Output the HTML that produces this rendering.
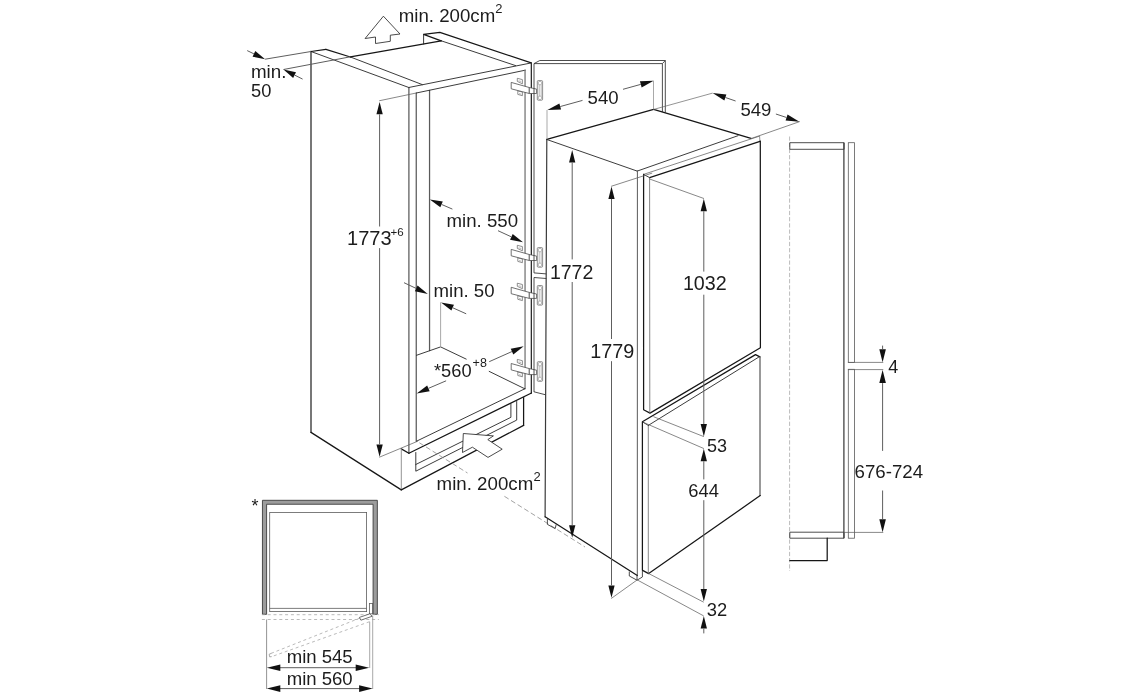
<!DOCTYPE html>
<html lang="en"><head><meta charset="utf-8"><title>Built-in fridge-freezer installation dimensions</title>
<style>
html,body{margin:0;padding:0;background:#fff;}
body{width:1129px;height:695px;overflow:hidden;}
svg{display:block;will-change:transform;}
svg text{font-family:"Liberation Sans",sans-serif;fill:#1c1c1c;}
.k{stroke:#161616;stroke-width:1.25;fill:none;stroke-linecap:round;stroke-linejoin:round;}
.n{stroke:#262626;stroke-width:.9;fill:none;stroke-linecap:round;stroke-linejoin:round;}
.c1{stroke:#2e2e2e;stroke-width:1.3;fill:none;stroke-linecap:round;}
.c2{stroke:#5a5a5a;stroke-width:1.25;fill:none;stroke-linecap:round;}
.c3{stroke:#777;stroke-width:1.3;fill:none;stroke-linecap:round;}
.n2{stroke:#5a5a5a;stroke-width:1;fill:none;stroke-linecap:round;}
.m{stroke:#555;stroke-width:1.2;fill:none;stroke-linecap:round;stroke-linejoin:round;}
.t{stroke:#606060;stroke-width:.75;fill:none;stroke-linecap:round;}
.d{stroke:#5e5e5e;stroke-width:1;fill:none;}
.g{stroke:#707070;stroke-width:.85;fill:none;stroke-linejoin:round;}
.l{stroke:#9a9a9a;stroke-width:.85;fill:none;}
.e{stroke:#666;stroke-width:.7;fill:none;}
.o{stroke:#3a3a3a;stroke-width:.9;fill:none;stroke-linejoin:round;}
.h{stroke:#606060;stroke-width:.7;fill:#fff;stroke-linejoin:round;}
.h2{stroke:#8a8a8a;stroke-width:.6;fill:none;}
.ha{stroke:#4c4c4c;stroke-width:.8;fill:#fff;stroke-linejoin:round;}
.ds{stroke:#8c8c8c;stroke-width:.8;fill:none;stroke-dasharray:5 2.8;}
.dv{stroke:#a8a8a8;stroke-width:.8;fill:none;stroke-dasharray:4.2 2;}
.sv{stroke:#3c3c3c;stroke-width:1.25;fill:none;}
.ae{stroke:#3a3a3a;stroke-width:1.2;fill:none;stroke-linecap:round;}
.l2{stroke:#888;stroke-width:.9;fill:none;}
.dp{stroke:#a8a8a8;stroke-width:.8;fill:none;stroke-dasharray:3 2.8;}
.o2{stroke:#5a5a5a;stroke-width:.8;fill:none;}
.w{stroke:#2a2a2a;stroke-width:.85;fill:#fff;stroke-linejoin:miter;}
.fr{stroke:#3c3c3c;stroke-width:.9;fill:#9c9c9c;}
.pi{stroke:#5c5c5c;stroke-width:.8;fill:none;}
.ah{fill:#111;stroke:none;}
</style></head>
<body>
<svg width="1129" height="695" viewBox="0 0 1129 695">
<rect x="0" y="0" width="1129" height="695" fill="#fff"/>
<line class="c1" x1="311" y1="51.5" x2="311" y2="432.4"/>
<line class="n" x1="311" y1="51.5" x2="408.8" y2="87.5"/>
<line class="k" x1="311" y1="432.4" x2="401.3" y2="489.9"/>
<line class="k" x1="311" y1="51.5" x2="325.9" y2="49.4"/>
<line class="k" x1="325.9" y1="49.4" x2="350.4" y2="57"/>
<line class="n" x1="350.4" y1="57" x2="422.3" y2="84.6"/>
<line class="k" x1="350.4" y1="56.8" x2="441.2" y2="40.8"/>
<line class="d" x1="265.1" y1="59.2" x2="311" y2="51.5"/>
<line class="d" x1="283.5" y1="69.5" x2="350.4" y2="56.8"/>
<polygon class="ah" points="265.1,59.2 252.56,56.67 255.29,50.99"/>
<line class="d" x1="247.2" y1="50.6" x2="253.92" y2="53.83"/>
<polygon class="ah" points="283.5,69.5 295.99,72.25 293.16,77.88"/>
<line class="d" x1="302.6" y1="79.1" x2="294.58" y2="75.07"/>
<line class="c2" x1="408.9" y1="87.5" x2="408.9" y2="453.2"/>
<line class="c2" x1="416.25" y1="93" x2="416.25" y2="441.3"/>
<line class="c2" x1="429.55" y1="90.4" x2="429.55" y2="350.6"/>
<line class="n" x1="408.8" y1="87.5" x2="530.8" y2="63"/>
<line class="n" x1="416.3" y1="93" x2="525.2" y2="70.2"/>
<path class="k" d="M441.2 40.8 L423.6 34.3 L439.9 32.3 L531.2 62.9"/>
<line class="n" x1="423.6" y1="34.3" x2="423.6" y2="44"/>
<line class="n" x1="441.2" y1="40.8" x2="515.6" y2="65.6"/>
<line class="c3" x1="525.05" y1="70.2" x2="525.05" y2="388.8"/>
<line class="c1" x1="531.35" y1="63" x2="531.35" y2="393"/>
<path class="n" d="M416.5 355.3 L440.6 346.9 L466.2 359.1"/>
<line class="n" x1="489.2" y1="371.4" x2="524.6" y2="388.7"/>
<line class="l" x1="440.6" y1="302.3" x2="440.6" y2="346.9"/>
<line class="n" x1="525" y1="388.7" x2="416.3" y2="441.3"/>
<line class="k" x1="531.5" y1="393" x2="408.9" y2="453.2"/>
<line class="k" x1="401.3" y1="448.9" x2="408.9" y2="453.2"/>
<line class="l2" x1="401.3" y1="448.9" x2="401.3" y2="489.9"/>
<line class="t" x1="379.6" y1="457.1" x2="417.5" y2="441.3"/>
<line class="k" x1="401.3" y1="489.9" x2="523.6" y2="425.4"/>
<line class="k" x1="523.6" y1="397.5" x2="523.6" y2="425.4"/>
<path class="n" d="M415.8 452.5 L415.8 471.2 L516.7 420.1 L516.7 401.5"/>
<path class="n" d="M415.8 464.5 L510.9 417.3 L510.9 404"/>
<line class="ds" x1="419.4" y1="442.8" x2="467.5" y2="473"/>
<line class="ds" x1="504.4" y1="496.3" x2="585" y2="547"/>
<path class="w" d="M463.3 433.5 L493.4 435.9 L487.8 439.6 L502.2 449.2 L488 457.4 L472.4 447.2 L462.5 452.5 Z"/>
<path class="w" d="M383.4 16.2 L365.1 38.5 L375.5 37 L375.5 43.5 L390.3 41.3 L390.3 35.2 L400 34 Z"/>
<line class="t" x1="379.6" y1="100.7" x2="416.3" y2="93"/>
<polygon class="ah" points="379.6,101.9 382.75,114.3 376.45,114.3"/>
<line class="d" x1="379.6" y1="226.5" x2="379.6" y2="114.3"/>
<polygon class="ah" points="379.6,456.8 376.45,444.4 382.75,444.4"/>
<line class="d" x1="379.6" y1="248.1" x2="379.6" y2="444.4"/>
<polygon class="ah" points="429.8,199.4 442.8,201.55 440.32,207.34"/>
<line class="d" x1="452.4" y1="209.1" x2="441.56" y2="204.45"/>
<polygon class="ah" points="523,242.2 510.05,239.71 512.69,233.99"/>
<line class="d" x1="498" y1="230.7" x2="511.37" y2="236.85"/>
<polygon class="ah" points="427.8,293.9 414.88,291.3 417.56,285.6"/>
<line class="d" x1="404" y1="282.7" x2="416.22" y2="288.45"/>
<polygon class="ah" points="441,302.5 453.97,304.86 451.39,310.61"/>
<line class="d" x1="466.2" y1="313.8" x2="452.68" y2="307.74"/>
<polygon class="ah" points="523.7,346.3 513.3,354.39 510.73,348.64"/>
<line class="d" x1="489.2" y1="361.7" x2="512.01" y2="351.52"/>
<polygon class="ah" points="416.65,393.4 427.18,385.47 429.66,391.26"/>
<line class="d" x1="446.1" y1="380.8" x2="428.42" y2="388.37"/>
<path class="h" d="M517.3 81.4 L517.3 78.3 L522.4 79.6 L522.4 83.8 Z"/>
<path class="h2" d="M518.6 80.8 L521.2 81.5"/>
<path class="h" d="M517.8 90.8 L517.8 94.4 L522.4 95.7 L522.4 92.1 Z"/>
<path class="h2" d="M519 93.6 L521.3 94.2"/>
<rect class="h" x="537.3" y="80.6" width="5.3" height="19.6" rx=".9"/>
<rect class="h2" x="538.4" y="81.5" width="3.1" height="3.2" rx=".8"/>
<rect class="h2" x="538.4" y="96.2" width="3.1" height="3.2" rx=".8"/>
<path class="h2" d="M539.2 84.7 V96.2 M541.2 84.7 V96.2"/>
<path class="ha" d="M511.2 82.4 L529.3 87.5 L529.3 93.5 L511.2 88.8 Z"/>
<path class="ha" d="M529.3 87.5 L536.6 89.1 L536.6 93.5 L529.3 93.5 Z"/>
<path class="h" d="M517.3 248.4 L517.3 245.3 L522.4 246.6 L522.4 250.8 Z"/>
<path class="h2" d="M518.6 247.8 L521.2 248.5"/>
<path class="h" d="M517.8 257.8 L517.8 261.4 L522.4 262.7 L522.4 259.1 Z"/>
<path class="h2" d="M519 260.6 L521.3 261.2"/>
<rect class="h" x="537.3" y="247.6" width="5.3" height="19.6" rx=".9"/>
<rect class="h2" x="538.4" y="248.5" width="3.1" height="3.2" rx=".8"/>
<rect class="h2" x="538.4" y="263.2" width="3.1" height="3.2" rx=".8"/>
<path class="h2" d="M539.2 251.7 V263.2 M541.2 251.7 V263.2"/>
<path class="ha" d="M511.2 249.4 L529.3 254.5 L529.3 260.5 L511.2 255.8 Z"/>
<path class="ha" d="M529.3 254.5 L536.6 256.1 L536.6 260.5 L529.3 260.5 Z"/>
<path class="h" d="M517.3 286.3 L517.3 283.2 L522.4 284.5 L522.4 288.7 Z"/>
<path class="h2" d="M518.6 285.7 L521.2 286.4"/>
<path class="h" d="M517.8 295.7 L517.8 299.3 L522.4 300.6 L522.4 297 Z"/>
<path class="h2" d="M519 298.5 L521.3 299.1"/>
<rect class="h" x="537.3" y="285.5" width="5.3" height="19.6" rx=".9"/>
<rect class="h2" x="538.4" y="286.4" width="3.1" height="3.2" rx=".8"/>
<rect class="h2" x="538.4" y="301.1" width="3.1" height="3.2" rx=".8"/>
<path class="h2" d="M539.2 289.6 V301.1 M541.2 289.6 V301.1"/>
<path class="ha" d="M511.2 287.3 L529.3 292.4 L529.3 298.4 L511.2 293.7 Z"/>
<path class="ha" d="M529.3 292.4 L536.6 294 L536.6 298.4 L529.3 298.4 Z"/>
<path class="h" d="M517.3 362.5 L517.3 359.4 L522.4 360.7 L522.4 364.9 Z"/>
<path class="h2" d="M518.6 361.9 L521.2 362.6"/>
<path class="h" d="M517.8 371.9 L517.8 375.5 L522.4 376.8 L522.4 373.2 Z"/>
<path class="h2" d="M519 374.7 L521.3 375.3"/>
<rect class="h" x="537.3" y="361.7" width="5.3" height="19.6" rx=".9"/>
<rect class="h2" x="538.4" y="362.6" width="3.1" height="3.2" rx=".8"/>
<rect class="h2" x="538.4" y="377.3" width="3.1" height="3.2" rx=".8"/>
<path class="h2" d="M539.2 365.8 V377.3 M541.2 365.8 V377.3"/>
<path class="ha" d="M511.2 363.5 L529.3 368.6 L529.3 374.6 L511.2 369.9 Z"/>
<path class="ha" d="M529.3 368.6 L536.6 370.2 L536.6 374.6 L529.3 374.6 Z"/>
<path class="o" d="M534 272.9 L534 63.6 L539.8 60.5 L665.3 60.5 L665.3 112.6"/>
<line class="o" x1="534" y1="277.5" x2="534" y2="392"/>
<path class="o" d="M534 63.6 L662.4 63.6 L662.4 111.9"/>
<line class="o" x1="662.4" y1="63.6" x2="665.3" y2="60.5"/>
<line class="o" x1="534" y1="272.9" x2="546.3" y2="273.9"/>
<line class="o" x1="534" y1="277.5" x2="546.3" y2="278.5"/>
<line class="o" x1="534" y1="391.8" x2="546" y2="394.9"/>
<line class="ae" x1="546.8" y1="139.5" x2="545.1" y2="516.8"/>
<line class="k" x1="546.8" y1="139.4" x2="653.6" y2="109.3"/>
<line class="k" x1="653.6" y1="109.3" x2="751" y2="138.4"/>
<line class="n" x1="546.8" y1="139.5" x2="637.2" y2="171.1"/>
<line class="n" x1="637.2" y1="171.1" x2="738" y2="135.7"/>
<line class="t" x1="643.5" y1="174.4" x2="759.6" y2="136.1"/>
<line class="t" x1="751" y1="138.6" x2="799.4" y2="121.7"/>
<line class="l2" x1="759.6" y1="136.1" x2="759.9" y2="141"/>
<line class="k" x1="649.6" y1="177.6" x2="760" y2="141.3"/>
<line class="n2" x1="637.4" y1="171.1" x2="637.3" y2="575.5"/>
<path class="k" d="M643.6 174.4 L643.6 409.8 L650 413.1 L760.4 347.7 L760.3 141"/>
<line class="n" x1="643.6" y1="174.4" x2="649.6" y2="177.6"/>
<line class="g" x1="649.6" y1="177.6" x2="649.8" y2="413"/>
<path class="k" d="M642.4 570.3 L642.4 421.8 L755.5 354.6 L759.9 356.9"/>
<line class="m" x1="760" y1="356.9" x2="760" y2="495.6"/>
<path class="k" d="M760.2 495.6 L648.7 573.6 L642.6 570.4"/>
<line class="g" x1="648.3" y1="573.4" x2="648.3" y2="425.4"/>
<line class="n" x1="648.3" y1="425.4" x2="758.6" y2="357.2"/>
<line class="n" x1="642.4" y1="421.8" x2="648.3" y2="425.4"/>
<line class="k" x1="545.1" y1="516.8" x2="637.3" y2="575.5"/>
<path class="o" d="M547.4 519 L547.4 524.4 L555.2 528.6 L556.2 524.4"/>
<path class="o" d="M629.3 571.5 L629.3 576 L637 580.2 L642.4 577 L642.4 571"/>
<line class="o" x1="637" y1="575.5" x2="637" y2="580.2"/>
<line class="l" x1="547" y1="110" x2="547" y2="139.2"/>
<line class="l" x1="653.5" y1="80.8" x2="653.5" y2="109.3"/>
<polygon class="ah" points="547.4,110.1 559.38,103.52 561.06,109.59"/>
<line class="d" x1="582.5" y1="100.4" x2="560.22" y2="106.56"/>
<polygon class="ah" points="653.6,80.8 641.63,87.39 639.94,81.32"/>
<line class="d" x1="623" y1="89.3" x2="640.79" y2="84.36"/>
<line class="e" x1="653.4" y1="109.5" x2="712.6" y2="93.1"/>
<polygon class="ah" points="712.6,93.1 726.39,94.51 724.34,100.46"/>
<line class="d" x1="735.6" y1="101" x2="725.37" y2="97.49"/>
<polygon class="ah" points="799.4,121.7 785.59,120.49 787.55,114.5"/>
<line class="d" x1="775.9" y1="114" x2="786.57" y2="117.5"/>
<polygon class="ah" points="572.2,150.1 575.35,162.5 569.05,162.5"/>
<line class="d" x1="572.2" y1="259.4" x2="572.2" y2="162.5"/>
<polygon class="ah" points="572.2,537.7 569.05,525.3 575.35,525.3"/>
<line class="d" x1="572.2" y1="282" x2="572.2" y2="525.3"/>
<line class="t" x1="611.5" y1="186.2" x2="651.8" y2="173.2"/>
<polygon class="ah" points="611.5,186.5 614.65,198.9 608.35,198.9"/>
<line class="d" x1="611.5" y1="339" x2="611.5" y2="198.9"/>
<polygon class="ah" points="611.5,597.8 608.35,585.4 614.65,585.4"/>
<line class="d" x1="611.5" y1="361.2" x2="611.5" y2="585.4"/>
<line class="t" x1="611.5" y1="598.3" x2="637.2" y2="579.9"/>
<line class="t" x1="649.6" y1="179" x2="703.6" y2="198.4"/>
<polygon class="ah" points="703.8,198.8 706.95,211.2 700.65,211.2"/>
<line class="d" x1="703.8" y1="271.6" x2="703.8" y2="211.2"/>
<polygon class="ah" points="703.8,436.5 700.65,424.1 706.95,424.1"/>
<line class="d" x1="703.8" y1="294.7" x2="703.8" y2="424.1"/>
<line class="t" x1="653.8" y1="416.8" x2="703.5" y2="436.5"/>
<line class="t" x1="643.7" y1="422.5" x2="703.5" y2="448.4"/>
<polygon class="ah" points="703.8,448.8 706.95,461.2 700.65,461.2"/>
<line class="d" x1="703.8" y1="479.4" x2="703.8" y2="461.2"/>
<polygon class="ah" points="703.8,601.5 700.65,589.1 706.95,589.1"/>
<line class="d" x1="703.8" y1="500.2" x2="703.8" y2="589.1"/>
<line class="t" x1="648.6" y1="573.5" x2="703.3" y2="602"/>
<line class="t" x1="637.2" y1="579.9" x2="703.3" y2="615.7"/>
<polygon class="ah" points="703.8,616.1 706.95,628.5 700.65,628.5"/>
<line class="d" x1="703.8" y1="633.4" x2="703.8" y2="628.5"/>
<line class="dv" x1="789.6" y1="136.5" x2="789.6" y2="571"/>
<rect class="o" x="789.8" y="142.7" width="54.3" height="6.6"/>
<line class="sv" x1="843.9" y1="142.7" x2="843.9" y2="538.2"/>
<rect class="o2" x="848.3" y="142.7" width="6.2" height="219.9"/>
<rect class="o2" x="848.3" y="369.3" width="6.2" height="168.9"/>
<rect class="o" x="789.8" y="532.2" width="54.2" height="6"/>
<path class="k" d="M827.2 538.2 L827.2 560.5 L789.8 560.5"/>
<line class="t" x1="848.3" y1="362.4" x2="882.9" y2="362.4"/>
<line class="t" x1="848.3" y1="369.6" x2="882.9" y2="369.6"/>
<line class="t" x1="844" y1="532.4" x2="882.9" y2="532.4"/>
<polygon class="ah" points="882.6,362.2 879.3,349.2 885.9,349.2"/>
<line class="d" x1="882.6" y1="345.6" x2="882.6" y2="349.2"/>
<polygon class="ah" points="882.6,370.1 885.9,383.1 879.3,383.1"/>
<line class="d" x1="882.6" y1="450.9" x2="882.6" y2="383.1"/>
<polygon class="ah" points="882.6,532.2 879.3,519.2 885.9,519.2"/>
<line class="d" x1="882.6" y1="490.5" x2="882.6" y2="519.2"/>
<path class="fr" d="M262.45 614.3 L262.45 500.3 L377.35 500.3 L377.35 614.3 L373.1 614.3 L373.1 504.25 L266.6 504.25 L266.6 614.3 Z"/>
<rect class="pi" x="269.7" y="512.45" width="96.9" height="99.15"/>
<line class="pi" x1="269.7" y1="608.4" x2="366.6" y2="608.4"/>
<rect class="pi" x="369.4" y="603.4" width="3.2" height="10.4"/>
<line class="dp" x1="261.9" y1="614.7" x2="378.8" y2="614.7"/>
<line class="dp" x1="261.9" y1="619.5" x2="378.8" y2="619.5"/>
<line class="dp" x1="360.1" y1="618" x2="269.5" y2="654"/>
<line class="dp" x1="369.5" y1="621.7" x2="270.9" y2="656.9"/>
<path class="l" d="M271.3 653.4 L269.2 654.2 L269.6 656.8 L271.6 656.6"/>
<path class="ha" d="M359.4 617.4 L369.6 613.9 L372.4 616.2 L360.9 620.2 Z"/>
<line class="l2" x1="266.6" y1="619.5" x2="266.6" y2="689"/>
<line class="l" x1="372.7" y1="616" x2="372.7" y2="689"/>
<line class="l" x1="369.7" y1="621.7" x2="369.7" y2="668"/>
<line class="d" x1="279" y1="667.7" x2="357" y2="667.7"/>
<polygon class="ah" points="266.8,667.7 280.3,664.4 280.3,671"/>
<polygon class="ah" points="369.2,667.7 355.7,671 355.7,664.4"/>
<line class="d" x1="279" y1="688.6" x2="361" y2="688.6"/>
<polygon class="ah" points="266.8,688.6 280.3,685.3 280.3,691.9"/>
<polygon class="ah" points="372.6,688.6 359.1,691.9 359.1,685.3"/>
<text transform="translate(398.7 21.6) scale(1.038 1)" font-size="18">min. 200cm<tspan x="92.97" y="-8.8" font-size="12.5">2</tspan></text>
<text transform="translate(250.9 78) scale(1.045 1)" font-size="18">min.</text>
<text transform="translate(251.1 97.3) scale(1.015 1)" font-size="18">50</text>
<text transform="translate(347.1 245.4) scale(1.005 1)" font-size="19.9">1773<tspan x="43.18" y="-9" font-size="11.5">+6</tspan></text>
<text transform="translate(446.5 227) scale(1.037 1)" font-size="18">min. 550</text>
<text transform="translate(433.5 297.1) scale(1.035 1)" font-size="18">min. 50</text>
<text transform="translate(434 377)" font-size="18.3">*560<tspan x="38.6" y="-9.6" font-size="12.5">+8</tspan></text>
<text transform="translate(436.6 490.1) scale(1.039 1)" font-size="18">min. 200cm<tspan x="93.36" y="-8.9" font-size="12.5">2</tspan></text>
<text transform="translate(587.6 103.5) scale(0.985 1)" font-size="18.9">540</text>
<text transform="translate(740.4 115.8) scale(1.01 1)" font-size="18.4">549</text>
<text transform="translate(549.9 278.7) scale(0.992 1)" font-size="19.7">1772</text>
<text transform="translate(590.2 358.2) scale(0.99 1)" font-size="20">1779</text>
<text transform="translate(682.9 289.6) scale(0.985 1)" font-size="20">1032</text>
<text transform="translate(706.9 451.8)" font-size="18">53</text>
<text transform="translate(688.3 497) scale(1.02 1)" font-size="18">644</text>
<text transform="translate(706.8 616.4) scale(1.02 1)" font-size="18">32</text>
<text transform="translate(888.2 372.5)" font-size="18">4</text>
<text transform="translate(854.6 478) scale(1.038 1)" font-size="18">676-724</text>
<text transform="translate(251.5 512)" font-size="18">*</text>
<text transform="translate(286.7 663.1) scale(1.031 1)" font-size="18">min 545</text>
<text transform="translate(286.7 684.6) scale(1.031 1)" font-size="18">min 560</text>
</svg>
</body></html>
